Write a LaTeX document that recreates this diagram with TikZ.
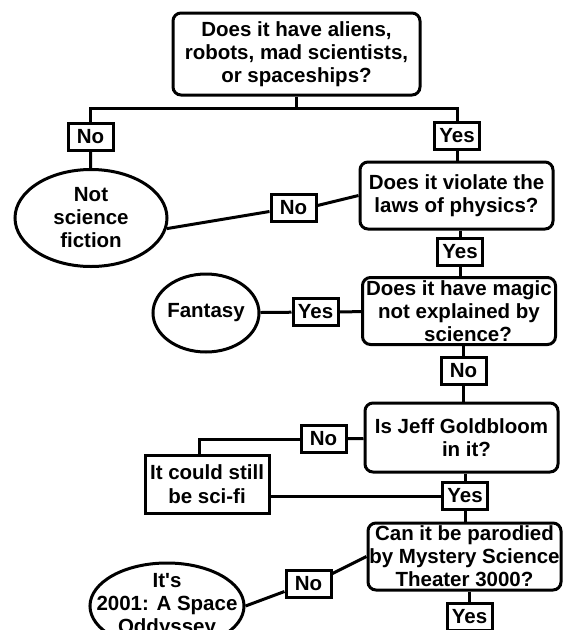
\documentclass[tikz,border=0pt]{standalone}
\usepackage{fontspec}
\setmainfont{Liberation Sans}
\usetikzlibrary{shapes.geometric}

\newcommand{\chartfont}{\fontsize{20.5}{23}\selectfont\bfseries}

\begin{document}
\begin{tikzpicture}[x=1pt,y=-1pt,
    every node/.style={font=\chartfont, align=center, inner sep=0pt},
    q/.style={draw, line width=3pt, rounded corners=8pt, minimum width=193pt, minimum height=67pt},
    tag/.style={draw, line width=3pt, minimum width=45pt, minimum height=27pt},
    leaf/.style={draw, ellipse, line width=3pt},
    link/.style={line width=3pt}]

\useasboundingbox (0,0) rectangle (579,630);
\clip (0,0) rectangle (579,630);

\node[q, minimum width=247pt, minimum height=82pt] (q1) at (296.5,54) {Does it have aliens,\\robots, mad scientists,\\or spaceships?};

\node[tag] (no1) at (90.5,137) {No};
\node[tag] (yes1) at (457,135.5) {Yes};
\node[leaf, minimum width=152pt, minimum height=97pt] (nsf) at (91,218) {Not\\science\\fiction};

\node[q] (q2) at (456.5,195.5) {Does it violate the\\laws of physics?};
\node[tag] (no2) at (293.5,207.5) {No};
\node[tag] (yes2) at (460,252) {Yes};

\node[q] (q3) at (459,311) {Does it have magic\\not explained by\\\hspace{18pt}science?};
\node[tag] (yes3) at (315.5,312) {Yes};
\node[leaf, minimum width=106pt, minimum height=78pt, inner xsep=-2pt] (fantasy) at (206,313) {Fantasy};
\node[tag] (no3) at (463.5,370.5) {No};

\node[q, minimum height=69pt] (q4) at (461.5,437.5) {Is Jeff Goldbloom\\\hspace{10pt}in it?};
\node[tag] (no4) at (323.5,439) {No};
\node[draw, line width=3pt, minimum width=124pt, minimum height=58pt, font=\fontsize{20.5}{24}\selectfont\bfseries] (scifi) at (207,484) {It could still\\be sci-fi};
\node[tag] (yes4) at (465,496) {Yes};

\node[q] (q5) at (464.5,556.5) {Can it be parodied\\by Mystery Science\\Theater 3000?};
\node[tag] (no5) at (308.5,583.5) {No};
\node[leaf, minimum width=152pt, minimum height=86pt, inner xsep=-16pt, inner ysep=-3pt] (odyssey) at (167,606) {It\textquotesingle s\\2001: A Space\\Oddyssey};
\node[tag] (yes5) at (469.5,616.5) {Yes};

% first split
\coordinate (split) at (296.5,108);
\draw[link] (q1.south) -- (split);
\draw[link] (no1.north) |- (split) -| (yes1.north);
\draw[link] (no1) -- (nsf);
\draw[link] (yes1) -- (q2.north -| yes1);

\draw[link] (q2.west) -- ([yshift=2pt]no2.east) ([yshift=-4pt]no2.west) -- (nsf.-8);
\draw[link] (q2.south -| yes2) -- (yes2) -- (q3.north -| yes2);

\draw[link] (fantasy) -- (yes3) -- (q3);
\draw[link] (q3.south -| no3) -- (no3) -- (q4.north -| no3);

\draw[link] (q4) -- (no4);
\draw[link] (no4.west) -| ([xshift=-8pt]scifi.north);
\draw[link] (scifi.east |- yes4) -- (yes4.west);
\draw[link] (q4.south -| yes4) -- (yes4) -- (q5.north -| yes4);

\draw[link] (q5.west) -- ([yshift=10pt]no5.east) ([yshift=-8pt]no5.west) -- (odyssey.east);
\draw[link] (q5.south -| yes5) -- (yes5);

\end{tikzpicture}
\end{document}
